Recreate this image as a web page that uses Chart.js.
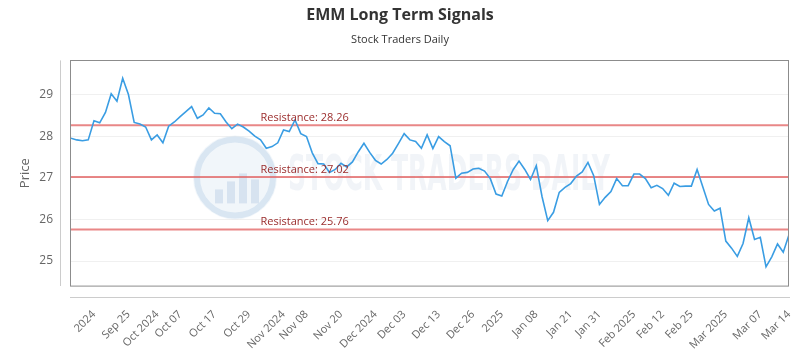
<!DOCTYPE html>
<html>
<head>
<meta charset="utf-8">
<script src="https://cdn.jsdelivr.net/npm/chart.js@4.4.1/dist/chart.umd.min.js"></script>
<style>
  body { margin: 0; background: #fff; }
</style>
</head>
<body>
<canvas id="chart" width="800" height="350"></canvas>
<script>
// closing prices, one per trading session
const prices = [
  27.95, 27.91, 27.89, 27.91, 28.37, 28.32, 28.57, 29.02, 28.84, 29.39,
  29.00, 28.33, 28.29, 28.22, 27.91, 28.03, 27.84, 28.24, 28.34, 28.47,
  28.59, 28.71, 28.43, 28.51, 28.68, 28.55, 28.54, 28.34, 28.18, 28.29,
  28.22, 28.12, 28.00, 27.91, 27.71, 27.75, 27.84, 28.15, 28.11, 28.39,
  28.06, 27.99, 27.60, 27.34, 27.33, 27.13, 27.20, 27.35, 27.26, 27.38,
  27.62, 27.83, 27.61, 27.42, 27.33, 27.44, 27.59, 27.82, 28.06, 27.91,
  27.87, 27.71, 28.03, 27.70, 27.99, 27.87, 27.77, 26.99, 27.11, 27.13,
  27.21, 27.23, 27.16, 26.98, 26.61, 26.56, 26.91, 27.20, 27.40, 27.20,
  26.96, 27.29, 26.55, 25.97, 26.17, 26.65, 26.77, 26.86, 27.04, 27.14,
  27.37, 27.05, 26.36, 26.53, 26.67, 26.98, 26.81, 26.81, 27.09, 27.09,
  26.98, 26.76, 26.82, 26.74, 26.58, 26.87, 26.79, 26.80, 26.80, 27.20,
  26.78, 26.36, 26.20, 26.27, 25.48, 25.31, 25.11, 25.42, 26.04, 25.52,
  25.57, 24.86, 25.10, 25.41, 25.21, 25.63
];

// x axis labels and the session index they sit on
const tickLabels = ['2024', 'Sep 25', 'Oct 2024', 'Oct 07', 'Oct 17', 'Oct 29',
  'Nov 2024', 'Nov 08', 'Nov 20', 'Dec 2024', 'Dec 03', 'Dec 13', 'Dec 26',
  '2025', 'Jan 08', 'Jan 21', 'Jan 31', 'Feb 2025', 'Feb 12', 'Feb 25',
  'Mar 2025', 'Mar 07', 'Mar 14'];
const tickIndex = [4, 10, 15, 19, 25, 31, 37, 41, 47, 53, 58, 64, 70,
  75, 81, 87, 92, 98, 103, 108, 114, 120, 125];

const yTicks = [25, 26, 27, 28, 29];
const resistance = [28.26, 27.02, 25.76];
const labelAt = 33; // session index where resistance labels start

const last = prices.length - 1;

const datasets = [{
  label: 'Price',
  data: prices.map((p, i) => ({ x: i, y: p })),
  borderColor: '#3a9de3',
  borderWidth: 1.6,
  pointRadius: 0,
  tension: 0
}];
resistance.forEach((r) => {
  datasets.push({
    label: 'Resistance ' + r,
    data: [{ x: 0, y: r }, { x: last, y: r }],
    borderColor: 'rgba(225, 95, 95, 0.75)',
    borderWidth: 2,
    pointRadius: 0
  });
});

const extras = {
  id: 'extras',
  beforeDatasetsDraw(chart) {
    const { ctx, chartArea: a } = chart;
    // faint watermark
    ctx.save();
    const cx = a.left + 164, cy = a.top + 117;
    ctx.fillStyle = 'rgba(215, 228, 240, 0.35)';
    ctx.beginPath();
    ctx.arc(cx, cy, 42, 0, Math.PI * 2);
    ctx.fill();
    ctx.strokeStyle = 'rgba(200, 218, 236, 0.6)';
    ctx.lineWidth = 6;
    ctx.beginPath();
    ctx.arc(cx, cy, 38, 0, Math.PI * 2);
    ctx.stroke();
    ctx.fillStyle = 'rgba(195, 212, 232, 0.55)';
    [[-20, 14], [-8, 22], [4, 30], [16, 24]].forEach(([dx, h]) => {
      ctx.fillRect(cx + dx, cy + 26 - h, 8, h);
    });
    ctx.font = 'bold 50px "DejaVu Sans Condensed", "Liberation Sans Narrow", sans-serif';
    ctx.fillStyle = 'rgba(210, 220, 232, 0.3)';
    ctx.textBaseline = 'middle';
    const txt = 'STOCK TRADERS DAILY';
    const w = ctx.measureText(txt).width;
    ctx.translate(a.left + 217, cy);
    ctx.scale(322 / w, 1);
    ctx.fillText(txt, 0, 0);
    ctx.restore();
  },
  afterDatasetsDraw(chart) {
    const { ctx, scales: { x, y } } = chart;
    ctx.save();
    ctx.font = '11px "Open Sans", sans-serif';
    ctx.fillStyle = '#9b2c2c';
    ctx.textBaseline = 'alphabetic';
    resistance.forEach((r) => {
      ctx.fillText('Resistance: ' + r.toFixed(2), x.getPixelForValue(labelAt), y.getPixelForValue(r) - 4);
    });
    ctx.restore();
  },
  afterDraw(chart) {
    const { ctx, chartArea: a } = chart;
    ctx.save();
    ctx.lineWidth = 1;
    ctx.strokeStyle = '#8c8c8c';
    ctx.strokeRect(Math.round(a.left) - 0.5, Math.round(a.top) + 0.5, a.width, a.height);
    ctx.strokeStyle = '#cccccc';
    ctx.beginPath();
    ctx.moveTo(Math.round(a.left) - 10.5, a.top);
    ctx.lineTo(Math.round(a.left) - 10.5, a.bottom);
    ctx.moveTo(a.left - 1, Math.round(a.bottom) + 11.5);
    ctx.lineTo(a.right + 1, Math.round(a.bottom) + 11.5);
    ctx.stroke();
    ctx.restore();
  }
};

Chart.defaults.font.family = '"Open Sans", sans-serif';
Chart.defaults.color = '#666';

new Chart(document.getElementById('chart'), {
  type: 'line',
  data: { datasets },
  options: {
    responsive: false,
    animation: false,
    layout: { padding: { right: 0 } },
    plugins: {
      legend: { display: false },
      tooltip: { enabled: false },
      title: {
        display: true,
        text: 'EMM Long Term Signals',
        color: '#333',
        font: { size: 16, weight: 'bold' },
        padding: { top: 6, bottom: 8 }
      },
      subtitle: {
        display: true,
        text: 'Stock Traders Daily',
        color: '#333',
        font: { size: 11 },
        padding: { top: 0, bottom: 14 }
      }
    },
    scales: {
      x: {
        type: 'linear',
        min: 0,
        max: last,
        grid: { display: false },
        border: { display: false },
        afterBuildTicks: (s) => { s.ticks = tickIndex.map((v) => ({ value: v })); },
        afterFit: (s) => { s.height = 64; s.paddingRight = 11; },
        ticks: {
          autoSkip: false,
          minRotation: 45,
          maxRotation: 45,
          padding: 14,
          font: { size: 11 },
          callback: (v, i) => tickLabels[i]
        }
      },
      y: {
        min: 24.4,
        max: 29.82,
        grid: { color: '#f0f0f0', drawTicks: false },
        border: { display: false },
        afterBuildTicks: (s) => { s.ticks = yTicks.map((v) => ({ value: v })); },
        afterFit: (s) => { s.width = 71; },
        ticks: { padding: 18, font: { size: 12 } },
        title: {
          display: true,
          text: 'Price',
          color: '#666',
          font: { size: 13 },
          padding: { top: 17, bottom: 0 }
        }
      }
    }
  },
  plugins: [extras]
});
</script>
</body>
</html>
